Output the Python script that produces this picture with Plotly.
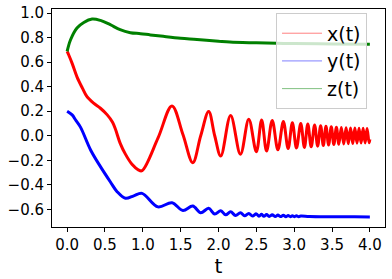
import plotly.graph_objects as go

# x(t): red
x_t = [0, 0.02, 0.066, 0.13, 0.2, 0.26, 0.35, 0.44, 0.53, 0.6, 0.64, 0.70, 0.77, 0.86, 0.94, 0.99,
       1.2, 1.385, 1.53, 1.66, 1.765, 1.87, 1.95, 2.03, 2.16, 2.29, 2.40, 2.50, 2.57, 2.635, 2.71,
       2.785, 2.857, 2.92, 2.976, 3.03, 3.087, 3.135, 3.18, 3.225, 3.27, 3.31, 3.35, 3.385, 3.42,
       3.455, 3.49, 3.524, 3.558, 3.59, 3.623, 3.655, 3.686, 3.715, 3.745, 3.774, 3.802, 3.83,
       3.857, 3.884, 3.911, 3.937, 3.963, 3.99, 4.0]
x_v = [0.687, 0.66, 0.59, 0.48, 0.39, 0.32, 0.265, 0.224, 0.17, 0.11, 0.05, -0.06, -0.15, -0.235, -0.278, -0.285,
       -0.02, 0.243, 0.01, -0.22, 0.0, 0.197, 0.0, -0.165, 0.164, -0.151, 0.135, -0.13, 0.129, -0.125, 0.125,
       -0.115, 0.115, -0.105, 0.105, -0.1, 0.1, -0.095, 0.095, -0.09, 0.088, -0.085, 0.082, -0.08, 0.078,
       -0.075, 0.073, -0.072, 0.07, -0.069, 0.068, -0.067, 0.066, -0.065, 0.064, -0.063, 0.062, -0.061,
       0.061, -0.06, 0.06, -0.059, 0.059, -0.058, -0.03]

# y(t): blue
y_t = [0, 0.066, 0.11, 0.176, 0.31, 0.44, 0.57, 0.66, 0.77, 0.88, 0.99,
       1.2, 1.385, 1.53, 1.66, 1.765, 1.87, 1.95, 2.03, 2.095, 2.16, 2.225, 2.29, 2.345, 2.40,
       2.45, 2.50, 2.535, 2.57, 2.6, 2.635, 2.67, 2.71, 2.75, 2.785, 2.82, 2.857, 2.89, 2.92,
       2.95, 2.976, 3.0, 3.03, 3.06, 3.087, 3.2, 3.5, 3.8, 4.0]
y_v = [0.2, 0.17, 0.13, 0.07, -0.116, -0.252, -0.375, -0.456, -0.51, -0.49, -0.47,
       -0.58, -0.546, -0.61, -0.573, -0.628, -0.592, -0.638, -0.611, -0.645, -0.62, -0.65, -0.628, -0.653, -0.633,
       -0.655, -0.637, -0.656, -0.64, -0.657, -0.642, -0.658, -0.645, -0.659, -0.647, -0.659, -0.649, -0.66, -0.651,
       -0.66, -0.652, -0.66, -0.653, -0.66, -0.654, -0.658, -0.66, -0.661, -0.662]

# z(t): green
z_t = [0, 0.044, 0.13, 0.22, 0.33, 0.44, 0.57, 0.70, 0.835, 0.97, 1.1, 1.27, 1.5, 1.715, 2.0, 2.15,
       2.5, 2.77, 3.0, 3.5, 4.0]
z_v = [0.687, 0.78, 0.878, 0.923, 0.951, 0.94, 0.905, 0.864, 0.84, 0.832, 0.822, 0.81, 0.795, 0.785,
       0.77, 0.763, 0.757, 0.753, 0.752, 0.748, 0.745]

series_names = ["x(t)", "y(t)", "z(t)"]
series_colors = ["#ff0000", "#0000ff", "#008000"]
legend_colors = ["#ff8080", "#8080ff", "#80c080"]

x_ticks = [0.0, 0.5, 1.0, 1.5, 2.0, 2.5, 3.0, 3.5, 4.0]
y_ticks = [-0.6, -0.4, -0.2, 0.0, 0.2, 0.4, 0.6, 0.8, 1.0]

fig = go.Figure()
data = [(x_t, x_v), (y_t, y_v), (z_t, z_v)]
for (tt, vv), name, col in zip(data, series_names, series_colors):
    fig.add_trace(go.Scatter(x=tt, y=vv, mode="lines", name=name,
                             line=dict(color=col, width=3, shape="spline", smoothing=1),
                             showlegend=False, hoverinfo="skip"))
for name, col in zip(series_names, legend_colors):
    fig.add_trace(go.Scatter(x=[None], y=[None], mode="lines", name=name,
                             line=dict(color=col, width=1), showlegend=True))

fig.update_layout(
    width=392, height=279,
    margin=dict(l=52, r=7, t=9, b=52),
    paper_bgcolor="white", plot_bgcolor="white",
    font=dict(family="DejaVu Sans", color="black", size=15),
    legend=dict(x=0.946, y=0.98, xanchor="right", yanchor="top",
                bgcolor="rgba(255,255,255,0.8)", bordercolor="#cccccc", borderwidth=1,
                font=dict(size=19, family="DejaVu Sans", color="black"),
                itemwidth=40, tracegroupgap=0),
)
fig.update_xaxes(range=[-0.2, 4.2], tickvals=x_ticks, tickformat=".1f", automargin=False,
                 showline=True, mirror=True, linecolor="black", linewidth=1,
                 ticks="outside", ticklen=4, tickcolor="black", showgrid=False, zeroline=False,
                 tickfont=dict(size=15),
                 title=dict(text="t", font=dict(size=20), standoff=3))
fig.update_yaxes(range=[-0.744, 1.033], tickvals=y_ticks, tickformat=".1f", automargin=False,
                 showline=True, mirror=True, linecolor="black", linewidth=1,
                 ticks="outside", ticklen=4, tickcolor="black", showgrid=False, zeroline=False,
                 tickfont=dict(size=15))

fig.write_html("out.html", config={"displayModeBar": False},
               post_script="document.body.style.margin='0';")
